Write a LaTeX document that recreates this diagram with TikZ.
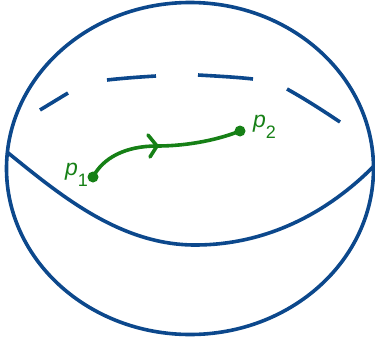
\documentclass[tikz,border=0pt]{standalone}
\usepackage{fontspec}
\setmainfont{Liberation Sans}
\usetikzlibrary{arrows.meta,decorations.markings}
\definecolor{sph}{RGB}{12,72,140}
\definecolor{pth}{RGB}{22,128,22}
\tikzset{
  sphline/.style={draw=sph, line width=3.6pt},
  pathline/.style={draw=pth, line width=3.6pt, line cap=round},
  dot/.style={circle, fill=pth, inner sep=0pt, minimum size=11pt},
  lbl/.style={text=pth, font=\fontsize{23}{23}\selectfont, inner sep=0pt}
}
\newcommand{\subnum}[1]{\raisebox{-0.5em}{\upshape\fontsize{18}{18}\selectfont #1}}
\begin{document}
\begin{tikzpicture}[x=1pt,y=-1pt]
\useasboundingbox (0,0) rectangle (375,345);
% sphere outline
\draw[sphline] (190,168.5) ellipse [x radius=183.5, y radius=166];
% front equator
\draw[sphline] (7,152) .. controls (60,195) and (120,245) .. (195,245)
  .. controls (270,245) and (330,210) .. (373,167);
% back equator (dashes)
\draw[sphline] (40,110) -- (68,93);
\draw[sphline] (107,80) .. controls (125,78) and (140,77) .. (156,76);
\draw[sphline] (198,75) .. controls (215,76) and (235,77) .. (253,79);
\draw[sphline] (287,89) .. controls (305,99) and (322,110) .. (340,122);
% points
\node[dot] (p1) at (93,177) {};
\node[dot] (p2) at (240,131) {};
\node[lbl, anchor=base west] (l1) at (65,175) {\itshape p\subnum{1}};
\node[lbl, anchor=base west] (l2) at (253,127) {\itshape p\subnum{2}};
% path
\coordinate (m) at (157,146);
\draw[pathline] (p1.center) .. controls (103,158) and (125,146) .. (m)
  .. controls (190,146) and (220,139) .. (p2.center);
\draw[pathline, line join=round] (148,135) -- (m) -- (150,157);
\end{tikzpicture}
\end{document}
